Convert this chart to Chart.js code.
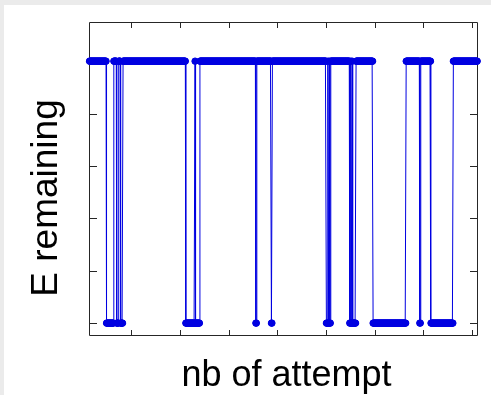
<!DOCTYPE html>
<html>
<head>
<meta charset="utf-8">
<title>E remaining</title>
<script src="https://cdn.jsdelivr.net/npm/chart.js@4.4.1/dist/chart.umd.min.js"></script>
<style>
    html, body { margin: 0; padding: 0; background: #ebebeb; }
    #wrap { position: absolute; left: 0; top: 0; width: 491px; height: 395px; }
</style>
</head>
<body>
<div id="wrap"><canvas id="attemptChart" width="491" height="395"></canvas></div>
<script>
// ===================== DATA =====================

// series is run-length encoded: value runValue[i] holds from runStart[i] until the next run starts
const runStart = [14, 49, 64, 70, 74, 78, 83, 212, 231, 232, 241, 356, 358, 388, 390,
                  501, 504, 505, 507, 508, 510, 549, 551, 552, 554, 555, 562, 597, 665,
                  693, 695, 716, 762];
const runValue = [1, 0, 1, 0, 1, 0, 1, 0, 1, 0, 1, 0, 1, 0, 1,
                  0, 1, 0, 1, 0, 1, 0, 1, 0, 1, 0, 1, 0, 1,
                  0, 1, 0, 1];
const lastAttempt = 811;

const xTicks = [100, 200, 300, 400, 500, 600, 700, 800];
const yTicks = [0, 0.2, 0.4, 0.6, 0.8, 1];

const xLabel = 'nb of attempt';
const yLabel = 'E remaining';

// ===================== CHART =====================

document.addEventListener('DOMContentLoaded', function() {

    // Expand runs into one point per attempt
    const points = [];
    let run = 0;
    for (let a = runStart[0]; a <= lastAttempt; a++) {
        while (run + 1 < runStart.length && runStart[run + 1] <= a) run++;
        points.push({ x: a, y: runValue[run] });
    }

    const axisColor = '#262626';

    // Matlab-like frame: grey figure edge, boxed axes, inward ticks, labels
    const framePlugin = {
        id: 'matlabFrame',
        beforeDraw(chart) {
            const ctx = chart.ctx;
            ctx.save();
            ctx.fillStyle = '#ebebeb';
            ctx.fillRect(0, 0, chart.width, chart.height);
            ctx.fillStyle = '#ffffff';
            ctx.fillRect(4, 5, chart.width - 4, chart.height - 5);
            ctx.restore();
        },
        beforeDatasetsDraw(chart) {
            const ctx = chart.ctx;
            const area = chart.chartArea;
            const xs = chart.scales.x;
            const ys = chart.scales.y;
            ctx.save();
            ctx.strokeStyle = axisColor;
            ctx.lineWidth = 1;
            ctx.beginPath();
            ctx.rect(area.left, area.top, area.right - area.left, area.bottom - area.top);
            ctx.stroke();

            ctx.beginPath();
            xTicks.forEach(function(t) {
                const px = Math.round(xs.getPixelForValue(t)) + 0.5;
                ctx.moveTo(px, area.bottom);
                ctx.lineTo(px, area.bottom - 5.5);
                ctx.moveTo(px, area.top);
                ctx.lineTo(px, area.top + 5.5);
            });
            yTicks.forEach(function(t) {
                const py = Math.round(ys.getPixelForValue(t)) + 0.5;
                ctx.moveTo(area.left, py);
                ctx.lineTo(area.left + 7.5, py);
                ctx.moveTo(area.right, py);
                ctx.lineTo(area.right - 7.5, py);
            });
            ctx.stroke();
            ctx.restore();
        },
        afterDraw(chart) {
            const ctx = chart.ctx;
            const area = chart.chartArea;
            ctx.save();
            ctx.fillStyle = '#000000';
            ctx.font = '36px "Liberation Sans", Arial, sans-serif';
            ctx.textAlign = 'center';
            ctx.textBaseline = 'alphabetic';
            ctx.fillText(xLabel, (area.left + area.right) / 2 + 3, 386);

            ctx.font = '37px "Liberation Sans", Arial, sans-serif';
            ctx.translate(57, 198);
            ctx.rotate(-Math.PI / 2);
            ctx.fillText(yLabel, 0, 0);
            ctx.restore();
        }
    };

    const ctx = document.getElementById('attemptChart').getContext('2d');
    const attemptChart = new Chart(ctx, {
        type: 'line',
        data: {
            datasets: [{
                label: yLabel,
                data: points,
                borderColor: 'rgb(0, 0, 225)',
                backgroundColor: 'rgb(0, 0, 225)',
                borderWidth: 1,
                pointRadius: 3.2,
                pointBorderWidth: 1,
                pointHoverRadius: 3.2,
                tension: 0,
                fill: false,
                clip: false
            }]
        },
        options: {
            responsive: false,
            animation: false,
            events: [],
            layout: {
                padding: { left: 89.5, top: 22.5, right: 13.5, bottom: 59.5 }
            },
            plugins: {
                legend: { display: false },
                tooltip: { enabled: false }
            },
            scales: {
                x: {
                    type: 'linear',
                    display: false,
                    min: 14,
                    max: 811.6
                },
                y: {
                    type: 'linear',
                    display: false,
                    min: -0.0473,
                    max: 1.1475
                }
            }
        },
        plugins: [framePlugin]
    });

});
</script>
</body>
</html>
